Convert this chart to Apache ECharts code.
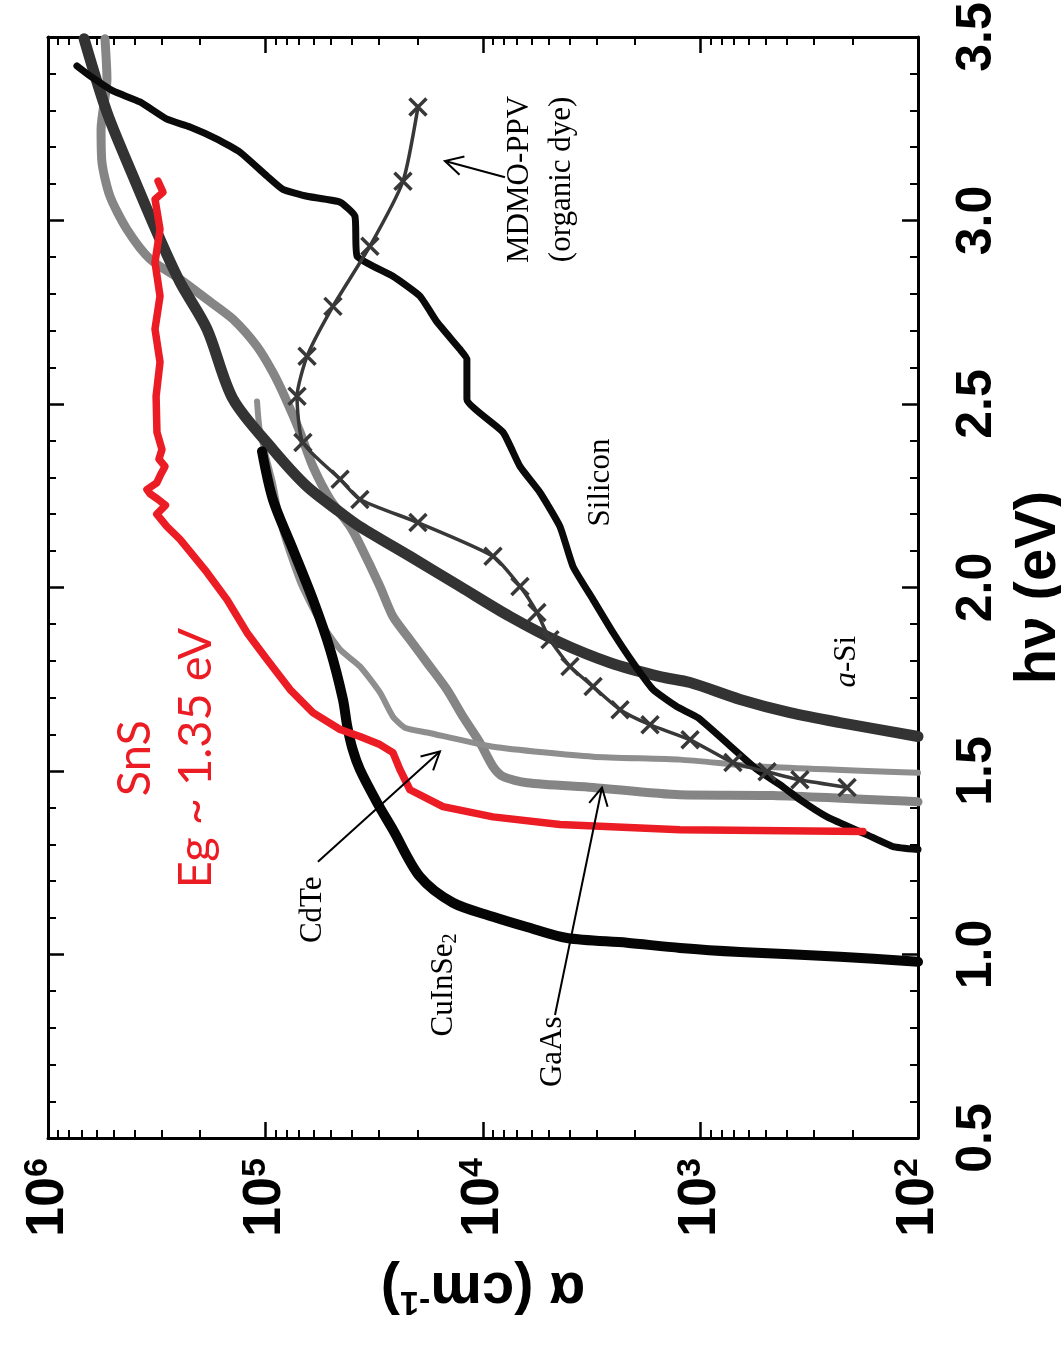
<!DOCTYPE html>
<html>
<head>
<meta charset="utf-8">
<script src="https://cdn.jsdelivr.net/npm/echarts@6/dist/echarts.min.js"></script>
<style>
  html, body { margin: 0; padding: 0; background: #fff; }
  #chart { width: 1061px; height: 1351px; }
</style>
</head>
<body>
<div id="chart"></div>
<script>
// Absorption edges of solar-cell materials: photon energy hv (eV) and log10 of alpha (cm^-1)
const snsEnergy   = [1.335, 1.340, 1.354, 1.375, 1.403, 1.449, 1.504, 1.550, 1.572, 1.594, 1.613, 1.659, 1.722, 1.804, 1.877, 1.967, 2.041, 2.131, 2.166, 2.200, 2.224, 2.240, 2.255, 2.267, 2.285, 2.310, 2.330, 2.350, 2.376, 2.423, 2.521, 2.614, 2.704, 2.794, 2.886, 2.976, 3.058, 3.077, 3.107];
const snsLogAlpha = [2.253, 3.094, 3.646, 3.954, 4.184, 4.336, 4.382, 4.414, 4.474, 4.566, 4.657, 4.782, 4.887, 4.993, 5.085, 5.177, 5.269, 5.393, 5.453, 5.500, 5.460, 5.494, 5.530, 5.545, 5.500, 5.480, 5.462, 5.490, 5.476, 5.499, 5.503, 5.485, 5.508, 5.485, 5.508, 5.485, 5.508, 5.471, 5.494];

const cisEnergy   = [0.980, 0.994, 1.007, 1.018, 1.032, 1.045, 1.075, 1.103, 1.141, 1.212, 1.340, 1.414, 1.504, 1.560, 1.625, 1.695, 1.831, 1.967, 2.104, 2.240, 2.371];
const cisLogAlpha = [2.000, 2.359, 2.818, 3.094, 3.338, 3.614, 3.798, 3.954, 4.138, 4.290, 4.414, 4.487, 4.566, 4.600, 4.625, 4.644, 4.703, 4.782, 4.874, 4.966, 5.016];

const siEnergy   = [1.286, 1.294, 1.326, 1.375, 1.422, 1.457, 1.504, 1.645, 1.675, 1.722, 1.795, 1.877, 1.967, 2.057, 2.166, 2.259, 2.330, 2.423, 2.513, 2.622, 2.649, 2.723, 2.794, 2.848, 2.903, 3.012, 3.050, 3.066, 3.085, 3.121, 3.186, 3.222, 3.255, 3.276, 3.323, 3.353, 3.394, 3.421];
const siLogAlpha = [2.000, 2.115, 2.234, 2.418, 2.543, 2.621, 2.740, 3.011, 3.108, 3.218, 3.310, 3.402, 3.494, 3.586, 3.646, 3.738, 3.830, 3.908, 4.074, 4.074, 4.106, 4.211, 4.290, 4.414, 4.579, 4.589, 4.657, 4.809, 4.920, 4.993, 5.117, 5.223, 5.347, 5.453, 5.577, 5.701, 5.807, 5.867];

const aSiEnergy   = [1.594, 1.632, 1.659, 1.695, 1.741, 1.757, 1.795, 1.850, 1.921, 2.003, 2.085, 2.166, 2.205, 2.275, 2.376, 2.513, 2.704, 2.832, 2.949, 3.121, 3.295, 3.495];
const aSiLogAlpha = [2.000, 2.359, 2.589, 2.818, 3.048, 3.186, 3.416, 3.646, 3.876, 4.106, 4.336, 4.566, 4.657, 4.809, 4.966, 5.149, 5.269, 5.393, 5.485, 5.609, 5.729, 5.834];

const gaasEnergy   = [1.416, 1.433, 1.435, 1.455, 1.468, 1.485, 1.512, 1.577, 1.648, 1.722, 1.795, 1.858, 1.921, 2.003, 2.117, 2.166, 2.240, 2.330, 2.423, 2.518, 2.586, 2.657, 2.731, 2.785, 2.840, 2.895, 2.976, 3.066, 3.159, 3.249, 3.385, 3.495];
const gaasLogAlpha = [2.000, 2.667, 3.094, 3.494, 3.798, 3.908, 3.954, 4.014, 4.092, 4.166, 4.257, 4.336, 4.414, 4.474, 4.566, 4.611, 4.703, 4.782, 4.841, 4.910, 4.966, 5.039, 5.149, 5.269, 5.393, 5.531, 5.637, 5.715, 5.752, 5.756, 5.729, 5.738];

const cdteEnergy   = [1.495, 1.512, 1.531, 1.539, 1.566, 1.605, 1.618, 1.648, 1.714, 1.785, 1.831, 1.921, 2.014, 2.150, 2.286, 2.423, 2.507];
const cdteLogAlpha = [2.000, 2.726, 3.094, 3.494, 3.954, 4.257, 4.359, 4.414, 4.474, 4.566, 4.657, 4.763, 4.841, 4.920, 4.966, 5.025, 5.039];

const mdmoEnergy   = [1.455, 1.476, 1.498, 1.523, 1.585, 1.626, 1.667, 1.730, 1.785, 1.858, 1.932, 2.003, 2.085, 2.177, 2.240, 2.295, 2.395, 2.521, 2.630, 2.766, 2.930, 3.107, 3.309];
const mdmoLogAlpha = [2.326, 2.543, 2.694, 2.851, 3.048, 3.232, 3.370, 3.494, 3.600, 3.692, 3.752, 3.830, 3.954, 4.299, 4.566, 4.657, 4.828, 4.855, 4.809, 4.690, 4.520, 4.368, 4.299];

// Axis ranges and tick values
const energyRange = [0.5, 3.5];
const energyStep = 0.5;
const alphaRange = [1e2, 1e6];
const alphaMinorTicks = [];
for (let d = 2; d < 6; d++) {
  for (let m = 2; m <= 9; m++) alphaMinorTicks.push(m * Math.pow(10, d));
}

const sansFont = "'Liberation Sans', Arial, Helvetica, sans-serif";
const serifFont = "'Liberation Serif', 'Times New Roman', Times, serif";

const toPairs = (energy, logAlpha) => energy.map((e, i) => [Math.pow(10, logAlpha[i]), e]);

const chart = echarts.init(document.getElementById('chart'), null, { renderer: 'canvas' });

const frameLine = { show: true, onZero: false, lineStyle: { color: '#000', width: 3 } };
const majorTick = { show: true, inside: true, length: 16, lineStyle: { color: '#000', width: 2.5 } };

const logAxis = (position, extra) => Object.assign({
  type: 'log', logBase: 10, min: alphaRange[0], max: alphaRange[1], inverse: true,
  position: position, splitLine: { show: false }, axisLabel: { show: false },
  axisLine: frameLine, axisTick: majorTick
}, extra);

const minorLogAxis = (position) => logAxis(position, {
  axisLine: { show: false },
  axisTick: { show: true, inside: true, length: 8, customValues: alphaMinorTicks, lineStyle: { color: '#000', width: 2 } }
});

const energyAxis = (position, extra) => Object.assign({
  type: 'value', min: energyRange[0], max: energyRange[1], interval: energyStep,
  position: position, splitLine: { show: false }, axisLabel: { show: false },
  axisLine: frameLine, axisTick: majorTick,
  minorTick: { show: true, splitNumber: 5, length: 8, lineStyle: { color: '#000', width: 2 } }
}, extra);

function curve(name, energy, logAlpha, color, width, z, extra) {
  return Object.assign({
    name: name, type: 'line', xAxisIndex: 0, yAxisIndex: 0,
    data: toPairs(energy, logAlpha), showSymbol: false, silent: true, z: z,
    lineStyle: { color: color, width: width, cap: 'round', join: 'round' },
    itemStyle: { color: color }
  }, extra || {});
}

const option = {
  animation: false,
  backgroundColor: '#fff',
  grid: { left: 48, right: 143, top: 37, bottom: 213, containLabel: false, outerBoundsMode: 'none' },
  xAxis: [
    logAxis('bottom', {
      axisLabel: {
        show: true, rotate: 90, margin: 20, color: '#000',
        formatter: v => '{b|10}{e|' + Math.round(Math.log10(v)) + '}',
        rich: {
          b: { fontSize: 54, fontWeight: 'bold', fontFamily: sansFont, color: '#000' },
          e: { fontSize: 34, fontWeight: 'bold', fontFamily: sansFont, color: '#000', verticalAlign: 'top' }
        }
      },
      name: '{t|α (cm}{s|-1}{t|)}', nameLocation: 'middle', nameRotate: 180, nameGap: 122,
      nameTextStyle: {
        rich: {
          t: { fontSize: 58, fontWeight: 'bold', fontFamily: sansFont, color: '#000' },
          s: { fontSize: 34, fontWeight: 'bold', fontFamily: sansFont, color: '#000', verticalAlign: 'top' }
        }
      }
    }),
    minorLogAxis('bottom'),
    logAxis('top'),
    minorLogAxis('top')
  ],
  yAxis: [
    energyAxis('right', {
      axisLabel: {
        show: true, rotate: 90, margin: 34, color: '#000',
        fontSize: 50, fontWeight: 'bold', fontFamily: sansFont,
        formatter: v => v.toFixed(1)
      },
      name: 'hν (eV)', nameLocation: 'middle', nameRotate: 90, nameGap: 70,
      nameTextStyle: { fontSize: 58, fontWeight: 'bold', fontFamily: sansFont, color: '#000' }
    }),
    energyAxis('left')
  ],
  series: [
    curve('GaAs', gaasEnergy, gaasLogAlpha, '#858585', 9, 2, { smooth: 0.25 }),
    curve('CdTe', cdteEnergy, cdteLogAlpha, '#8e8e8e', 6, 2, { smooth: 0.2 }),
    curve('a-Si', aSiEnergy, aSiLogAlpha, '#333333', 11, 3, { smooth: 0.3 }),
    curve('Silicon', siEnergy, siLogAlpha, '#0a0a0a', 7, 3, { smooth: 0.15 }),
    curve('CuInSe2', cisEnergy, cisLogAlpha, '#050505', 10, 4, { smooth: 0.3 }),
    curve('MDMO-PPV', mdmoEnergy, mdmoLogAlpha, '#383838', 3.5, 5, {
      smooth: 0.2,
      showSymbol: true, symbol: 'path://M0,0L10,10M10,0L0,10', symbolSize: 17,
      itemStyle: { color: 'none', borderColor: '#383838', borderWidth: 3.5 }
    }),
    curve('SnS', snsEnergy, snsLogAlpha, '#ec1c24', 7.5, 6)
  ]
};

chart.setOption(option);

// Material labels and pointer arrows, anchored at [log10 alpha, hv] positions
const px = (p) => chart.convertToPixel({ xAxisIndex: 0, yAxisIndex: 0 }, [Math.pow(10, p[0]), p[1]]);

const labels = [
  { at: [3.733, 3.112], text: 'MDMO-PPV\n(organic dye)', font: serifFont, size: 31, lineHeight: 42, color: '#000' },
  { at: [3.457, 2.286], text: 'Silicon', font: serifFont, size: 31, color: '#000' },
  { at: [2.326, 1.798], text: '{i|a}{n|-Si}', font: serifFont, size: 31, color: '#000', rich: true },
  { at: [4.782, 1.122], text: 'CdTe', font: serifFont, size: 31, color: '#000' },
  { at: [4.179, 0.917], text: '{n|CuInSe}{s|2}', font: serifFont, size: 31, color: '#000', rich: true },
  { at: [3.678, 0.735], text: 'GaAs', font: serifFont, size: 31, color: '#000' },
  { at: [5.460, 1.535], text: 'SnS\nEg ~ 1.35 eV', font: "Lato, 'Open Sans', sans-serif", size: 47, lineHeight: 61, color: '#ec1c24' }
];

const arrows = [
  { from: [3.899, 3.118], to: [4.175, 3.162] },
  { from: [4.759, 1.253], to: [4.198, 1.553] },
  { from: [3.669, 0.835], to: [3.453, 1.455] }
];

function buildGraphics() {
  const els = [];
  labels.forEach(l => {
    const p = px(l.at);
    const style = {
      text: l.text, fill: l.color, fontFamily: l.font, fontSize: l.size,
      align: 'center', verticalAlign: 'middle'
    };
    if (l.lineHeight) style.lineHeight = l.lineHeight;
    if (l.rich) {
      style.rich = {
        n: { fontFamily: l.font, fontSize: l.size, fill: l.color },
        i: { fontFamily: l.font, fontSize: l.size, fontStyle: 'italic', fill: l.color },
        s: { fontFamily: l.font, fontSize: 20, fill: l.color, verticalAlign: 'bottom', padding: [14, 0, 0, 0] }
      };
    }
    els.push({ type: 'text', x: p[0], y: p[1], rotation: Math.PI / 2, style: style, z: 20, silent: true });
  });
  arrows.forEach(a => {
    const t = px(a.from), h = px(a.to);
    const dx = h[0] - t[0], dy = h[1] - t[1];
    const len = Math.hypot(dx, dy);
    const ux = dx / len, uy = dy / len;
    const headLen = 20, ang = 28 * Math.PI / 180;
    const wing = (s) => {
      const c = Math.cos(s * ang), sn = Math.sin(s * ang);
      const rx = ux * c - uy * sn, ry = ux * sn + uy * c;
      return [h[0] - rx * headLen, h[1] - ry * headLen];
    };
    els.push({ type: 'line', shape: { x1: t[0], y1: t[1], x2: h[0], y2: h[1] }, style: { stroke: '#000', lineWidth: 2 }, z: 20, silent: true });
    els.push({ type: 'polyline', shape: { points: [wing(1), h, wing(-1)] }, style: { stroke: '#000', lineWidth: 2, fill: null }, z: 20, silent: true });
  });
  return els;
}

chart.setOption({ graphic: { elements: buildGraphics() } });
</script>
</body>
</html>
